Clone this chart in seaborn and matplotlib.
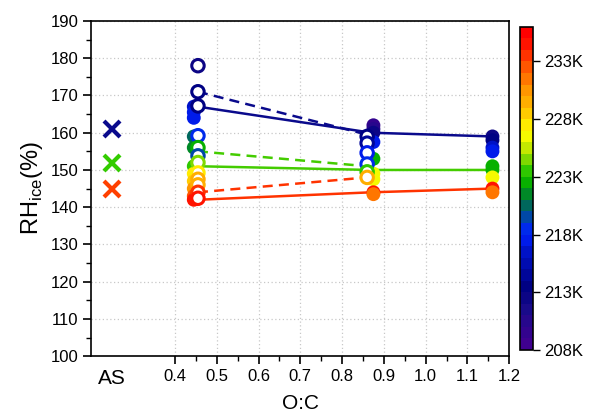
import numpy as np
import pandas as pd
import matplotlib
matplotlib.use('Agg')
import matplotlib.pyplot as plt
import seaborn as sns
from matplotlib.colors import LinearSegmentedColormap, BoundaryNorm
from matplotlib.cm import ScalarMappable
from matplotlib.ticker import MultipleLocator, FixedLocator

# open circles (O:C, RHice, T)
open_oc = [0.455] * 12 + [0.86] * 6
open_rh = [178, 171, 167.2, 159.2, 156, 153.8, 152, 149.2, 147.5, 146, 144, 142.4,
           159, 157.2, 154.6, 151.6, 149.5, 148]
open_t = [212.5, 213, 213.5, 218, 222, 219.5, 224.5, 227.5, 229, 229.5, 233, 234,
          213, 214, 217, 218, 223, 229]

# filled circles
fill_oc = [0.445] * 11 + [0.875] * 9 + [1.16] * 9
fill_rh = [167, 165.5, 164, 159, 156, 151, 149, 147, 145, 143, 142,
           162, 161, 160, 157.5, 153, 149, 147.5, 144, 143.5,
           159, 158, 156, 155, 151, 150, 148, 145, 144]
fill_t = [216, 217, 217.5, 220, 221, 223, 227, 228, 230, 232, 234,
          209, 210, 212.5, 217, 222, 226, 226.5, 234, 231,
          212.5, 213, 216.5, 217, 222, 222.5, 226, 234, 231]

# trend lines
solid_oc = [0.455, 0.87, 1.16]
solid_navy = [167, 160, 159]
solid_green = [151, 150, 150]
solid_red = [142, 144, 145]
dash_oc = [0.455, 0.86]
dash_navy = [171, 159.5]
dash_green = [155, 151]
dash_red = [144, 148]

# AS reference
as_rh = [161, 152, 145]
as_col = ['#0a0a8c', '#33cc00', '#ff4000']
line_col = ['#0a0a8c', '#44cc00', '#ff3300']

t_anchor = [208, 211, 213, 216, 218, 219, 220, 221, 222, 223, 224, 225, 226, 227, 228, 229, 231, 233, 235, 236]
c_anchor = ['#3f0090', '#1a0a8a', '#000080', '#0010c0', '#0020ff', '#0040c0', '#005a70', '#007a40',
            '#00a000', '#10c000', '#50d000', '#a0e000', '#e0f000', '#ffff00', '#ffe000', '#ffc000',
            '#ff9000', '#ff5000', '#ff1000', '#ff0000']
cmap = LinearSegmentedColormap.from_list(
    'origin', list(zip([(t - 208) / 28 for t in t_anchor], c_anchor)))
norm = BoundaryNorm(np.arange(208, 237), cmap.N)

plt.rcParams['font.family'] = ['Liberation Sans', 'DejaVu Sans']
plt.rcParams['mathtext.fontset'] = 'custom'
plt.rcParams['mathtext.rm'] = 'Liberation Sans'

fig = plt.figure(figsize=(5.9, 4.2), dpi=100)
ax = fig.add_axes([0.155, 0.152, 0.708, 0.798])
cax = fig.add_axes([0.881, 0.167, 0.022, 0.769])

ax.grid(True, linestyle=(0, (1, 2)), color='#c8c8c8', linewidth=0.9)
ax.set_axisbelow(True)

for ys, c in zip([solid_navy, solid_green, solid_red], line_col):
    ax.plot(solid_oc, ys, '-', color=c, lw=1.8, zorder=2)
for ys, c in zip([dash_navy, dash_green, dash_red], line_col):
    ax.plot(dash_oc, ys, color=c, lw=1.8, ls=(0, (4, 2.5)), zorder=2)

df_fill = pd.DataFrame({'oc': fill_oc, 'rh': fill_rh, 't': fill_t})
sns.scatterplot(data=df_fill, x='oc', y='rh', hue='t', palette=cmap, hue_norm=norm,
                s=100, linewidth=0, legend=False, ax=ax, zorder=3)

df_open = pd.DataFrame({'oc': open_oc, 'rh': open_rh, 't': open_t})
sns.scatterplot(data=df_open, x='oc', y='rh', hue='t', palette=cmap, hue_norm=norm,
                s=80, legend=False, ax=ax, zorder=4)
coll = ax.collections[-1]
cols = coll.get_facecolors()
coll.set_edgecolors(cols)
coll.set_facecolors('white')
coll.set_linewidths(2.2)

for y, c in zip(as_rh, as_col):
    ax.plot(0.25, y, 'x', color=c, ms=12, mew=3, zorder=3)

ax.set_xlim(0.2, 1.2)
ax.set_ylim(100, 190)
ax.set_xticks([0.25] + list(np.round(np.arange(0.4, 1.21, 0.1), 1)))
ax.set_xticklabels(['AS'] + ['%.1f' % v for v in np.arange(0.4, 1.21, 0.1)])
ax.get_xgridlines()[0].set_visible(False)
ax.xaxis.get_major_ticks()[0].tick1line.set_visible(False)
ax.xaxis.set_minor_locator(FixedLocator(np.arange(0.45, 1.2, 0.1)))
ax.yaxis.set_major_locator(MultipleLocator(10))
ax.yaxis.set_minor_locator(MultipleLocator(5))
ax.tick_params(axis='both', which='major', labelsize=12, length=6, width=1.2, direction='out')
ax.tick_params(axis='both', which='minor', length=3.5, width=1, direction='out')
ax.get_xticklabels()[0].set_fontsize(15)
for sp in ax.spines.values():
    sp.set_linewidth(1.2)
ax.set_xlabel('O:C', fontsize=15)
ax.set_ylabel(r'RH$_{\mathregular{ice}}$(%)', fontsize=17)

cb = fig.colorbar(ScalarMappable(norm=norm, cmap=cmap), cax=cax,
                  ticks=[208, 213, 218, 223, 228, 233])
cb.ax.minorticks_off()
cb.ax.set_yticklabels(['%dK' % t for t in [208, 213, 218, 223, 228, 233]])
cb.ax.tick_params(labelsize=12, length=5, width=1)
cb.outline.set_linewidth(1.2)

fig.savefig('out.png', dpi=100)
